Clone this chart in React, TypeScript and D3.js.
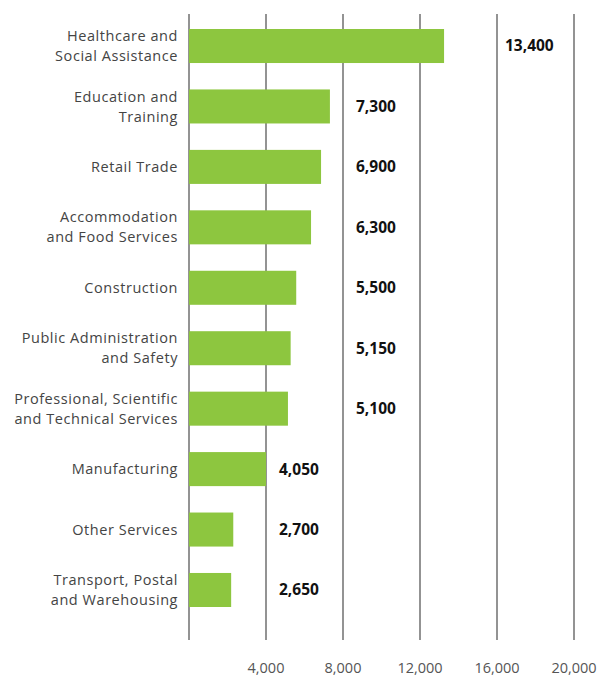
import React, { useEffect, useRef } from "react";
import * as d3 from "d3";

const industries = [
  "Healthcare and|Social Assistance",
  "Education and|Training",
  "Retail Trade",
  "Accommodation|and Food Services",
  "Construction",
  "Public Administration|and Safety",
  "Professional, Scientific|and Technical Services",
  "Manufacturing",
  "Other Services",
  "Transport, Postal|and Warehousing",
];
// printed values
const jobs = [13400, 7300, 6900, 6300, 5500, 5150, 5100, 4050, 2700, 2650];
// bar lengths as drawn in the picture (a few differ from the printed values)
const barJobs = [13250, 7320, 6860, 6340, 5570, 5280, 5140, 4000, 2300, 2190];
const tickValues = [0, 4000, 8000, 12000, 16000, 20000];

const W = 601;
const H = 677;
const margin = { top: 14, right: 27, bottom: 37, left: 189 };

const App = () => {
  const ref = useRef<SVGSVGElement>(null);

  useEffect(() => {
    const svg = d3.select(ref.current);
    svg.selectAll("*").remove();

    const width = W - margin.left - margin.right;
    const height = H - margin.top - margin.bottom;

    const x = d3.scaleLinear().domain([0, 20000]).range([0, width]);
    const y = d3
      .scaleBand()
      .domain(industries)
      .range([15, 593])
      .paddingInner(0.437)
      .paddingOuter(0);

    const g = svg
      .append("g")
      .attr("transform", `translate(${margin.left}, ${margin.top})`);

    // vertical grid lines
    g.selectAll(".grid")
      .data(tickValues)
      .enter()
      .append("line")
      .attr("x1", (d) => x(d))
      .attr("x2", (d) => x(d))
      .attr("y1", 0)
      .attr("y2", height)
      .attr("stroke", "#6f6f6f")
      .attr("stroke-width", 1.5);

    // tick labels (no label at zero)
    g.selectAll(".tick-label")
      .data(tickValues.filter((d) => d > 0))
      .enter()
      .append("text")
      .attr("x", (d) => x(d))
      .attr("y", height + 33)
      .attr("text-anchor", "middle")
      .attr("font-size", 14.5)
      .attr("fill", "#555")
      .text((d) => d3.format(",")(d));

    // bars
    g.selectAll(".bar")
      .data(barJobs)
      .enter()
      .append("rect")
      .attr("x", 0)
      .attr("y", (d, i) => y(industries[i])!)
      .attr("width", (d) => x(d))
      .attr("height", y.bandwidth())
      .attr("fill", "#8dc63f");

    // value labels sit just past the next grid line after the bar
    g.selectAll(".value")
      .data(jobs)
      .enter()
      .append("text")
      .attr("x", (d) => x(Math.ceil(d / 4000 - 0.05) * 4000) + (d > 12000 ? 8 : 13))
      .attr("y", (d, i) => y(industries[i])! + y.bandwidth() / 2)
      .attr("dy", "0.35em")
      .attr("font-size", 15.5)
      .attr("font-weight", 700)
      .attr("fill", "#111")
      .text((d) => d3.format(",")(d));

    // category labels, possibly two lines
    const labels = g
      .selectAll(".cat")
      .data(industries)
      .enter()
      .append("text")
      .attr("text-anchor", "end")
      .attr("font-size", 14.5)
      .attr("letter-spacing", 0.55)
      .attr("fill", "#444")
      .attr("transform", (d) => `translate(-11, ${y(d)! + y.bandwidth() / 2})`);

    labels.each(function (d) {
      const lines = d.split("|");
      const t = d3.select(this);
      lines.forEach((line, k) => {
        t.append("tspan")
          .attr("x", 0)
          .attr("y", (k - (lines.length - 1) / 2) * 20)
          .attr("dy", "0.35em")
          .text(line);
      });
    });
  }, []);

  return (
    <svg
      ref={ref}
      width={W}
      height={H}
      style={{ position: "absolute", left: 0, top: 0, fontFamily: "'Open Sans', sans-serif", background: "#fff" }}
    ></svg>
  );
};

export default App;
